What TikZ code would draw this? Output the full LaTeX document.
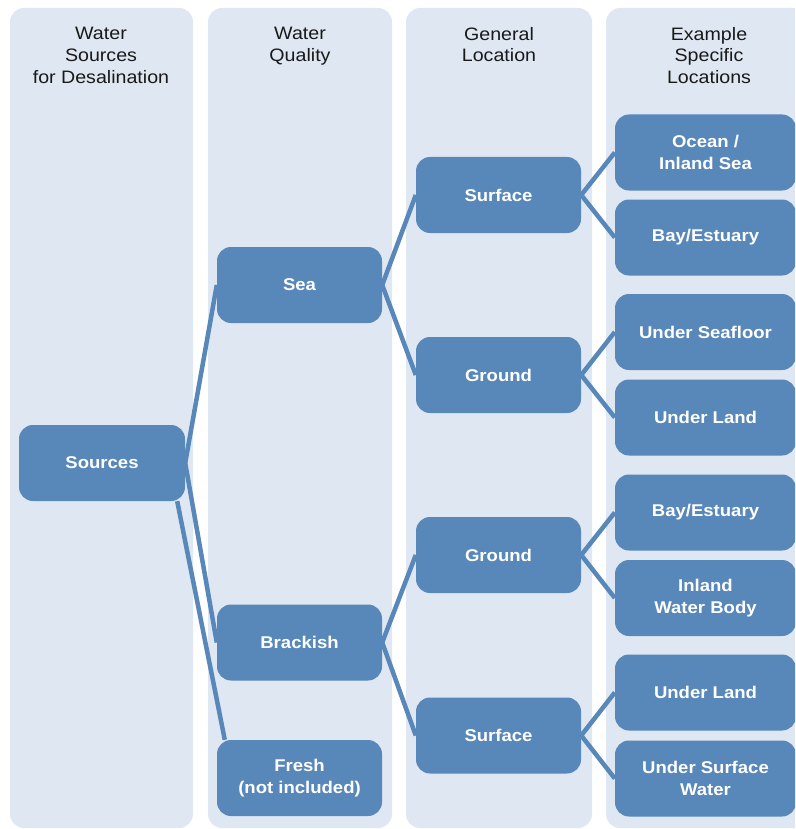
\documentclass[tikz,border=0pt]{standalone}
\usepackage{fontspec}
\setmainfont{Liberation Sans}
\newfontfamily\hfont[FakeStretch=1.09]{Liberation Sans}
\definecolor{colbg}{RGB}{223,232,242}
\definecolor{nodebl}{RGB}{88,135,185}
\definecolor{hdr}{RGB}{25,25,25}
\tikzset{
  colbox/.style={fill=colbg, draw=none, rounded corners=14pt},
  box/.style={fill=nodebl, draw=none, rounded corners=14pt, text=white, font=\hfont\fontsize{17}{22.5}\selectfont\bfseries, align=center, inner sep=0pt},
  hdrtext/.style={text=hdr, font=\hfont\fontsize{18}{21.8}\selectfont, align=center, anchor=north},
  link/.style={draw=nodebl, line width=4.5pt}
}
\begin{document}
\begin{tikzpicture}[x=1pt,y=-1pt]
\clip (0,0) rectangle (795,829);
\fill[white] (0,0) rectangle (795,829);
% columns
\path[colbox] (10,8) rectangle (193,828);
\path[colbox] (208,8) rectangle (392,828);
\path[colbox] (406,8) rectangle (592,828);
\path[colbox] (606,8) rectangle (815,828);
% headers
\node[hdrtext] (h1) at (101,23.5) {Water\\Sources\\for Desalination};
\node[hdrtext] (h2) at (300,23.5) {Water\\Quality};
\node[hdrtext] (h3) at (499,23.5) {General\\Location};
\node[hdrtext] (h4) at (709,23.5) {Example\\Specific\\Locations};
% level 1
\node[box, minimum width=166pt, minimum height=76pt] (src) at (102,463) {Sources};
% level 2
\node[box, minimum width=165pt, minimum height=76pt] (sea) at (299.5,285) {Sea};
\node[box, minimum width=165pt, minimum height=76pt] (brk) at (299.5,642.5) {Brackish};
\node[box, minimum width=165pt, minimum height=76pt] (frs) at (299.5,778) {Fresh\\(not included)};
% level 3
\node[box, minimum width=165pt, minimum height=76pt] (s1) at (498.5,195) {Surface};
\node[box, minimum width=165pt, minimum height=76pt] (g1) at (498.5,375) {Ground};
\node[box, minimum width=165pt, minimum height=76pt] (g2) at (498.5,555) {Ground};
\node[box, minimum width=165pt, minimum height=76pt] (s2) at (498.5,735.5) {Surface};
% level 4
\node[box, minimum width=181pt, minimum height=76pt] (l1) at (705.5,152.5) {Ocean /\\Inland Sea};
\node[box, minimum width=181pt, minimum height=76pt] (l2) at (705.5,237.5) {Bay/Estuary};
\node[box, minimum width=181pt, minimum height=76pt] (l3) at (705.5,332) {Under Seafloor};
\node[box, minimum width=181pt, minimum height=76pt] (l4) at (705.5,417.5) {Under Land};
\node[box, minimum width=181pt, minimum height=76pt] (l5) at (705.5,512.5) {Bay/Estuary};
\node[box, minimum width=181pt, minimum height=76pt] (l6) at (705.5,598) {Inland\\Water Body};
\node[box, minimum width=181pt, minimum height=76pt] (l7) at (705.5,692.5) {Under Land};
\node[box, minimum width=181pt, minimum height=76pt] (l8) at (705.5,778.5) {Under Surface\\Water};
% connectors
\path[link] (src.east) -- (sea.west);
\path[link] (src.east) -- (brk.west);
\path[link] ([xshift=-8pt]src.south east) -- ([xshift=8pt]frs.north west);
\path[link] (sea.east) -- (s1.west);
\path[link] (sea.east) -- (g1.west);
\path[link] (brk.east) -- (g2.west);
\path[link] (brk.east) -- (s2.west);
\path[link] (s1.east) -- (l1.west);
\path[link] (s1.east) -- (l2.west);
\path[link] (g1.east) -- (l3.west);
\path[link] (g1.east) -- (l4.west);
\path[link] (g2.east) -- (l5.west);
\path[link] (g2.east) -- (l6.west);
\path[link] (s2.east) -- (l7.west);
\path[link] (s2.east) -- (l8.west);
\end{tikzpicture}
\end{document}
